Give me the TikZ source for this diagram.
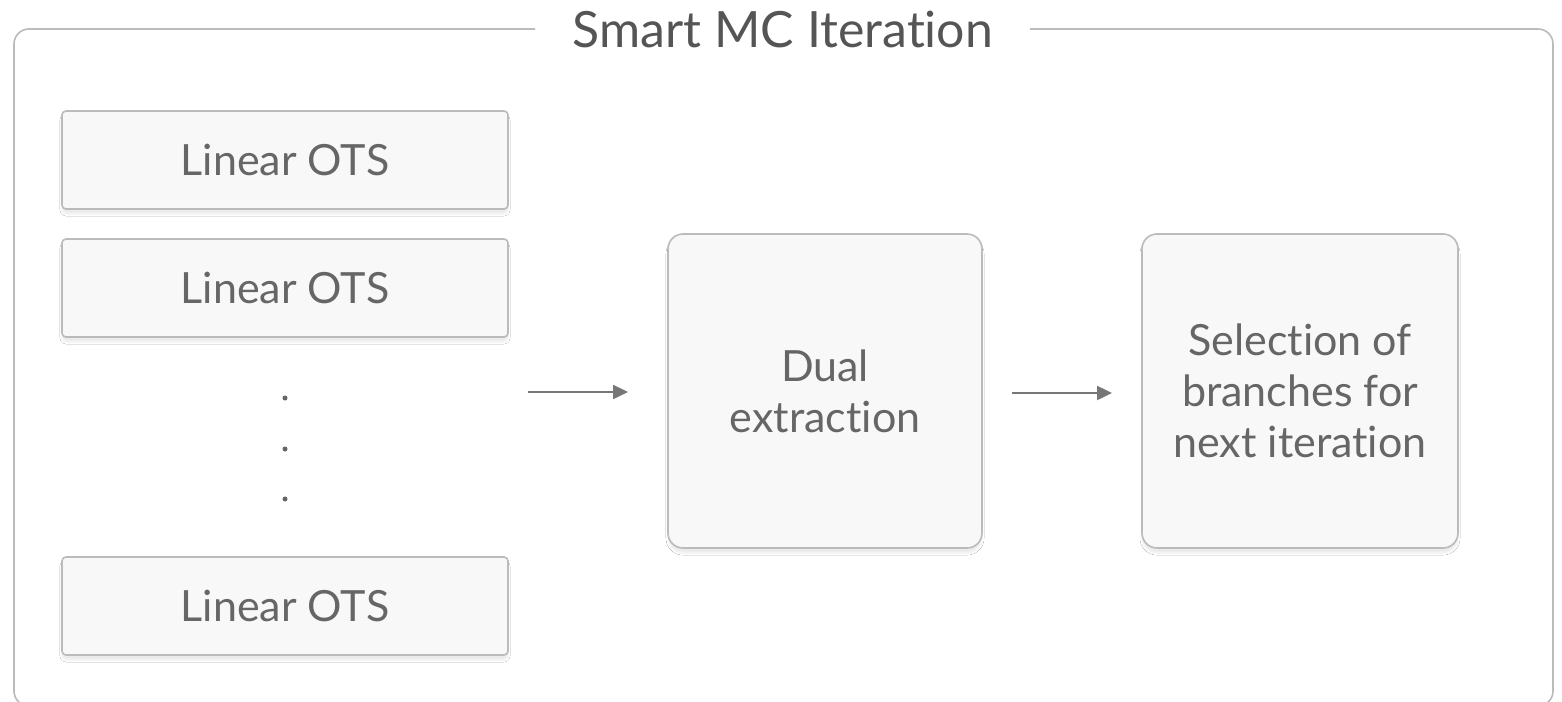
\documentclass[tikz,border=0pt]{standalone}
\usepackage{fontspec}
\setmainfont{Lato}[Ligatures=NoCommon]
\usetikzlibrary{shadows.blur,arrows.meta}
\definecolor{edgegray}{HTML}{BBBBBB}
\definecolor{boxfill}{HTML}{F8F8F8}
\definecolor{txtgray}{HTML}{666666}
\definecolor{titlegray}{HTML}{555555}
\definecolor{arrgray}{HTML}{777777}
\begin{document}
\begin{tikzpicture}[x=1pt,y=-1pt,
  box/.style={draw=edgegray, line width=1.6pt, fill=boxfill, text=txtgray,
    font=\fontsize{43}{51}\selectfont, inner sep=0pt, align=center,
    blur shadow={shadow xshift=0pt, shadow yshift=-5pt, shadow opacity=8, shadow blur steps=6}},
  otsbox/.style={box, rounded corners=4pt, minimum width=446pt, minimum height=98pt},
  bigbox/.style={box, rounded corners=15pt, minimum height=314pt},
  conn/.style={draw=arrgray, line width=2.4pt, -{Triangle[length=15pt,width=14pt]}},
  dotmark/.style={circle, fill=txtgray, inner sep=0pt, minimum size=5pt}]
\useasboundingbox (0,0) rectangle (1562,701);
\fill[white] (0,0) rectangle (1562,701);
% frame
\draw[edgegray, line width=1.6pt, rounded corners=15pt]
  (535,29) -- (14,29) -- (14,706) -- (1553,706) -- (1553,29) -- (1030,29);
\node[text=titlegray, font=\fontsize{50}{60}\selectfont, anchor=center] (title) at (783,29) {Smart MC Iteration};
% left boxes
\node[otsbox] (ots1) at (285,160) {Linear OTS};
\node[otsbox] (ots2) at (285,288) {Linear OTS};
\node[otsbox] (ots3) at (285,606) {Linear OTS};
\node[dotmark] (d1) at (285,398) {};
\node[dotmark] (d2) at (285,449) {};
\node[dotmark] (d3) at (285,499) {};
% middle & right
\node[bigbox, minimum width=314pt] (dual) at (825,391) {Dual\\extraction};
\node[bigbox, minimum width=316pt] (sel) at (1300,391) {Selection of\\branches for\\next iteration};
% arrows
\coordinate (a1s) at (528,392);
\coordinate (a1e) at (628,392);
\coordinate (a2s) at (1012,393);
\coordinate (a2e) at (1112,393);
\draw[conn] (a1s) -- (a1e);
\draw[conn] (a2s) -- (a2e);
\end{tikzpicture}
\end{document}
